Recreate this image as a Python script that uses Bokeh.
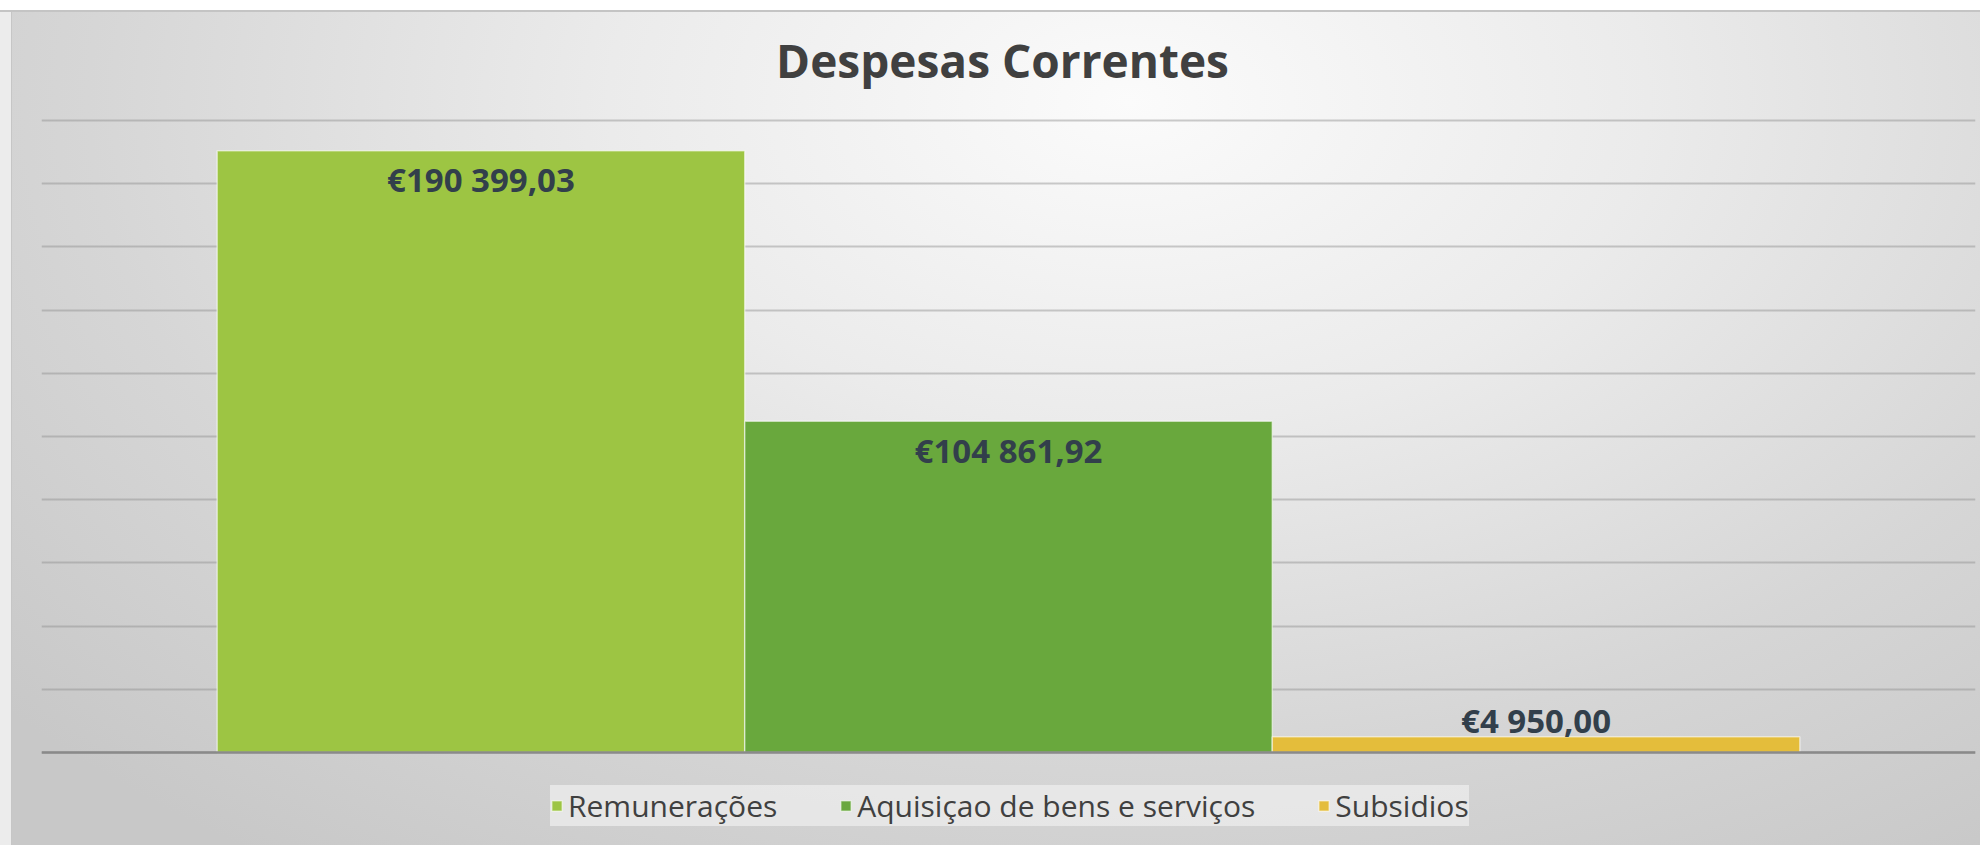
from bokeh.plotting import figure
from bokeh.models import (FactorRange, Range1d, FixedTicker, Span, Legend,
                          LegendItem, InlineStyleSheet, Grid)
from bokeh.core.properties import value
from bokeh.embed import file_html
from bokeh.resources import INLINE

# ---- data ----
series = ["Remunerações", "Aquisiçao de bens e serviços", "Subsidios"]
amounts = [190399.03, 104861.92, 4950.00]
colors = ["#9dc543", "#69a83d", "#e4bd3b"]
y_max = 200000
y_step = 20000
title_text = "Despesas  Correntes"


def fmt(v):
    s = f"{v:,.2f}"
    return "€" + s.replace(",", " ").replace(".", ",")


labels = [fmt(v) for v in amounts]
# inside-end for tall bars, outside-end for short ones
offsets = [29 if v > y_max * 0.1 else -16 for v in amounts]

# ---- layout (pixels) ----
W, H = 1980, 845
top_pad = 2           # room above the top gridline so it is drawn
top_px = 120 - top_pad
plot_px = 632         # height of the 0..y_max value area
below_px = H - 120 - plot_px   # room kept under the baseline for the legend
y_start = -y_max * below_px / plot_px
y_end = y_max + y_max * top_pad / plot_px

p = figure(width=W, height=H,
           x_range=FactorRange(factors=series, range_padding=0.222, range_padding_units="percent"),
           y_range=Range1d(y_start, y_end),
           x_axis_location=None, y_axis_location=None,
           output_backend="svg", toolbar_location=None,
           min_border_left=41, min_border_right=5, min_border_top=top_px, min_border_bottom=0)

# drop default grids
p.center = [r for r in p.center if not isinstance(r, Grid)]

p.background_fill_alpha = 0
p.border_fill_alpha = 0
p.outline_line_color = None
p.stylesheets = [InlineStyleSheet(css="""
:host {
  background: radial-gradient(ellipse 75% 110% at 57% 12%, #fbfbfb 0%, #ebebeb 35%, #d6d6d6 70%, #c8c8c8 100%);
  box-shadow: inset 0 10px 0 #ffffff, inset 0 12px 0 #c4c4c4, inset 11px 0 0 #ececec, inset 12px 0 0 #c6c6c6;
}
""")]

p.add_layout(Grid(dimension=1, ticker=FixedTicker(ticks=list(range(0, y_max + 1, y_step))),
                  grid_line_color="#8f8f8f", grid_line_alpha=0.45, grid_line_width=2))

items = []
for s, v, c in zip(series, amounts, colors):
    r = p.vbar(x=[s], top=[v], width=1.0, fill_color=c, line_color="white",
               line_alpha=0.55, line_width=1.5)
    items.append(LegendItem(label=s, renderers=[r]))

p.add_layout(Span(location=0, dimension="width", line_color="#8a8a8a", line_width=2.5))

p.text(x=series, y=amounts, text=labels, y_offset=offsets,
       text_align="center", text_baseline="middle",
       text_font=value("Open Sans"), text_font_style="bold",
       text_font_size="33px", text_color="#323f4b")

p.title.text = title_text
p.title.align = "center"
p.title.vertical_align = "top"
p.title.text_font = "Open Sans"
p.title.text_font_style = "bold"
p.title.text_font_size = "46px"
p.title.text_color = "#404040"
p.title.standoff = 52

legend = Legend(items=items, orientation="horizontal", location=(509, 19),
                background_fill_color="#eaeaea", background_fill_alpha=0.85,
                border_line_color=None, padding=10, spacing=62, margin=0,
                glyph_width=13, glyph_height=13, label_standoff=5,
                label_text_font="Open Sans", label_text_font_size="30px",
                label_text_color="#404040")
p.add_layout(legend, "center")

open("out.html", "w").write(file_html(p, INLINE))
